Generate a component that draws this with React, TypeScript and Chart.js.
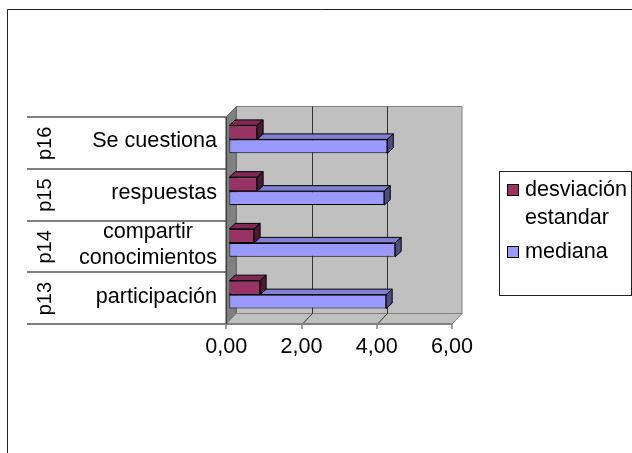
import React, { useEffect, useRef } from "react";
import { Chart, registerables } from "chart.js";

Chart.register(...registerables);

// ---- data ----
const codes = ["p16", "p15", "p14", "p13"];
const names = ["Se cuestiona", "respuestas", "compartir conocimientos", "participación"];
const seriesNames = ["desviación estandar", "mediana"];
const desviacion = [0.74, 0.74, 0.66, 0.82];
const mediana = [4.2, 4.12, 4.41, 4.17];
const xTicks = [0, 2, 4, 6];
const seriesColors = ["#993366", "#9999FF"];
const topColors = ["#7f2a55", "#7f7fd4"];
const sideColors = ["#4d1a33", "#4d4d80"];

const FONT = "21.6px 'Liberation Sans', Arial, sans-serif";
const CODE_FONT = "20px 'Liberation Sans', Arial, sans-serif";
const BAR_SHIFT = { dx: 3, dy: -3.5 };
const WALL = { dx: 10, dy: -10.5 };
const BAR_D = { dx: 6, dy: -5.5 };

function wrap(ctx: CanvasRenderingContext2D, text: string, maxW: number): string[] {
  const words = text.split(" ");
  const lines: string[] = [];
  let cur = "";
  for (const w of words) {
    const t = cur ? cur + " " + w : w;
    if (cur && ctx.measureText(t).width > maxW) {
      lines.push(cur);
      cur = w;
    } else cur = t;
  }
  if (cur) lines.push(cur);
  return lines;
}

function poly(ctx: CanvasRenderingContext2D, pts: number[][], fill: string | null, stroke: string | null, lw = 1) {
  ctx.beginPath();
  ctx.moveTo(pts[0][0], pts[0][1]);
  for (let i = 1; i < pts.length; i++) ctx.lineTo(pts[i][0], pts[i][1]);
  ctx.closePath();
  if (fill) {
    ctx.fillStyle = fill;
    ctx.fill();
  }
  if (stroke) {
    ctx.strokeStyle = stroke;
    ctx.lineWidth = lw;
    ctx.stroke();
  }
}

const excel3d = {
  id: "excel3d",
  beforeDatasetsDraw(chart: any) {
    const { ctx, chartArea: ca, scales } = chart;
    const xs = scales.x;
    const fx = (v: number) => xs.getPixelForValue(v) - BAR_SHIFT.dx;
    const fTop = ca.top - BAR_SHIFT.dy;
    const fBot = ca.bottom - BAR_SHIFT.dy;
    const x0 = fx(xTicks[0]);
    const x1 = fx(xTicks[xTicks.length - 1]);
    const { dx, dy } = WALL;
    ctx.save();
    // back wall
    poly(ctx, [[x0 + dx, fTop + dy], [x1 + dx, fTop + dy], [x1 + dx, fBot + dy], [x0 + dx, fBot + dy]], "#c0c0c0", "#808080");
    // side wall
    poly(ctx, [[x0, fTop], [x0 + dx, fTop + dy], [x0 + dx, fBot + dy], [x0, fBot]], "#808080", "#606060");
    // floor
    poly(ctx, [[x0, fBot], [x1, fBot], [x1 + dx, fBot + dy], [x0 + dx, fBot + dy]], "#c0c0c0", "#808080");
    // grid lines
    ctx.strokeStyle = "#333333";
    ctx.lineWidth = 1;
    for (const v of xTicks.slice(1, -1)) {
      const px = Math.round(fx(v)) + 0.5;
      ctx.beginPath();
      ctx.moveTo(px + dx, fTop + dy);
      ctx.lineTo(px + dx, fBot + dy);
      ctx.lineTo(px, fBot);
      ctx.stroke();
    }
    // bar depth faces (lower datasets first)
    const metas = chart.getSortedVisibleDatasetMetas();
    for (let m = metas.length - 1; m >= 0; m--) {
      const meta = metas[m];
      const di = meta.index;
      for (const el of meta.data) {
        const p = el.getProps(["x", "y", "base", "height"], true);
        const top = p.y - p.height / 2;
        const bot = p.y + p.height / 2;
        const l = Math.min(p.base, p.x);
        const r = Math.max(p.base, p.x);
        poly(ctx, [[l, top], [r, top], [r + BAR_D.dx, top + BAR_D.dy], [l + BAR_D.dx, top + BAR_D.dy]], topColors[di], "#000");
        poly(ctx, [[r, top], [r + BAR_D.dx, top + BAR_D.dy], [r + BAR_D.dx, bot + BAR_D.dy], [r, bot]], sideColors[di], "#000");
      }
    }
    ctx.restore();
  },
  afterDraw(chart: any) {
    const { ctx, chartArea: ca, scales } = chart;
    const xs = scales.x;
    const fx = (v: number) => xs.getPixelForValue(v) - BAR_SHIFT.dx;
    const fTop = ca.top - BAR_SHIFT.dy;
    const fBot = ca.bottom - BAR_SHIFT.dy;
    const x0 = fx(xTicks[0]);
    const x1 = fx(xTicks[xTicks.length - 1]);
    ctx.save();
    // outer border
    ctx.strokeStyle = "#222";
    ctx.lineWidth = 1;
    ctx.beginPath();
    ctx.moveTo(7.5, 460);
    ctx.lineTo(7.5, 9.5);
    ctx.lineTo(640, 9.5);
    ctx.stroke();

    // table lines
    const n = codes.length;
    const band = (fBot - fTop) / n;
    ctx.strokeStyle = "#808080";
    ctx.lineWidth = 2;
    for (let i = 0; i <= n; i++) {
      const y = Math.round(fTop + i * band);
      ctx.beginPath();
      ctx.moveTo(27, y);
      ctx.lineTo(i === n ? x1 : x0, y);
      ctx.stroke();
    }
    // side wall front edge
    ctx.strokeStyle = "#404040";
    ctx.lineWidth = 1.5;
    ctx.beginPath();
    ctx.moveTo(x0, fTop);
    ctx.lineTo(x0, fBot);
    ctx.stroke();
    // tick marks
    ctx.strokeStyle = "#808080";
    ctx.lineWidth = 1.5;
    for (const v of xTicks) {
      const px = Math.round(fx(v));
      ctx.beginPath();
      ctx.moveTo(px, fBot);
      ctx.lineTo(px, fBot + 5);
      ctx.stroke();
    }
    // tick labels
    ctx.fillStyle = "#000";
    ctx.font = FONT;
    ctx.textAlign = "center";
    ctx.textBaseline = "middle";
    for (const v of xTicks) {
      ctx.fillText(v.toFixed(2).replace(".", ","), fx(v), fBot + 23);
    }
    // category labels
    for (let i = 0; i < n; i++) {
      const cy = fTop + (i + 0.5) * band;
      ctx.save();
      ctx.font = CODE_FONT;
      ctx.translate(45, cy + 0.5);
      ctx.rotate(-Math.PI / 2);
      ctx.textAlign = "center";
      ctx.textBaseline = "middle";
      ctx.fillText(codes[i], 0, 0);
      ctx.restore();
      ctx.font = FONT;
      const lines = wrap(ctx, names[i], 150);
      const maxW = Math.max(...lines.map((t) => ctx.measureText(t).width));
      const lh = 26;
      const cx = 217 - maxW / 2;
      ctx.textAlign = "center";
      ctx.textBaseline = "middle";
      lines.forEach((t, k) => {
        ctx.fillText(t, cx, cy - 1.5 + (k - (lines.length - 1) / 2) * lh);
      });
    }
    // legend
    ctx.strokeStyle = "#222";
    ctx.lineWidth = 1;
    ctx.strokeRect(499.5, 171.5, 132, 124);
    ctx.font = FONT;
    ctx.textAlign = "left";
    ctx.textBaseline = "middle";
    const legendY = [190, 252];
    seriesNames.forEach((s, k) => {
      const y = legendY[k];
      ctx.fillStyle = seriesColors[k];
      ctx.fillRect(507.5, y - 5.5, 11, 11);
      ctx.strokeStyle = "#000";
      ctx.strokeRect(507.5, y - 5.5, 11, 11);
      ctx.fillStyle = "#000";
      const lines = wrap(ctx, s, 105);
      lines.forEach((t, j) => ctx.fillText(t, 525, y + j * 28));
    });
    ctx.restore();
  },
};

export default function App() {
  const ref = useRef<HTMLCanvasElement>(null);
  useEffect(() => {
    if (!ref.current) return;
    const chart = new Chart(ref.current, {
      type: "bar",
      data: {
        labels: codes,
        datasets: [
          { label: seriesNames[0], data: desviacion, backgroundColor: seriesColors[0], borderColor: "#000", borderWidth: 1, borderSkipped: false },
          { label: seriesNames[1], data: mediana, backgroundColor: seriesColors[1], borderColor: "#000", borderWidth: 1, borderSkipped: false },
        ],
      },
      options: {
        indexAxis: "y",
        responsive: false,
        animation: false,
        devicePixelRatio: 1,
        layout: { padding: { left: 229.3, right: 177, top: 113.5, bottom: 132.5 } },
        datasets: { bar: { categoryPercentage: 0.541, barPercentage: 1 } },
        scales: {
          x: { display: false, min: xTicks[0], max: xTicks[xTicks.length - 1] },
          y: { display: false },
        },
        plugins: { legend: { display: false }, tooltip: { enabled: false } },
      },
      plugins: [excel3d],
    } as any);
    return () => chart.destroy();
  }, []);
  return (
    <div style={{ position: "absolute", left: 0, top: 0, width: 632, height: 453, background: "#fff" }}>
      <canvas ref={ref} width={632} height={453} style={{ display: "block" }} />
    </div>
  );
}
